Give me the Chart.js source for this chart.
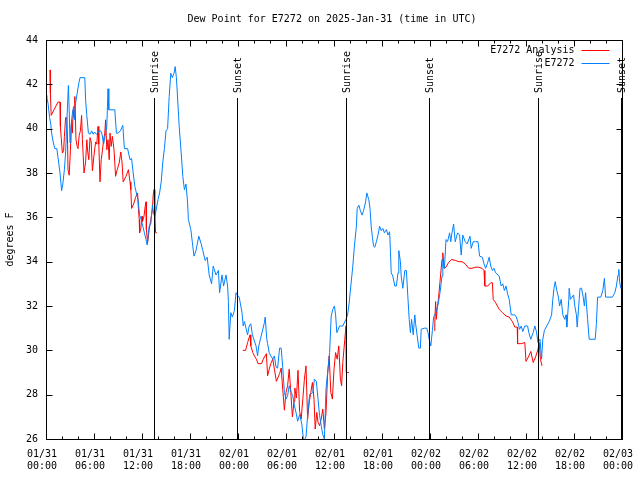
<!DOCTYPE html>
<html>
<head>
<meta charset="utf-8">
<script src="https://cdn.jsdelivr.net/npm/chart.js@4"></script>
<style>
  html, body { margin: 0; padding: 0; background: #fff; }
  canvas { display: block; }
</style>
</head>
<body>
<canvas id="dew" width="640" height="480"></canvas>
<script>
/* ================= TEXT ================= */
const chartTitle = "Dew Point for E7272 on 2025-Jan-31 (time in UTC)";
const yTitle = "degrees F";
const seriesNames = ["E7272 Analysis", "E7272"];
const dayLabels = ["01/31", "02/01", "02/02", "02/03"];

/* ================= AXES (hours since 01/31 00:00 UTC) ================= */
const xMin = 0, xMax = 72, xStep = 6, xMinorStep = 2;
const yMin = 26, yMax = 44, yStep = 2;

/* ================= SUN EVENTS ================= */
const sunHours = [13.54, 23.93, 37.53, 47.92, 61.53, 71.9];
const sunNames = ["Sunrise", "Sunset", "Sunrise", "Sunset", "Sunrise", "Sunset"];

/* ================= E7272 OBSERVED ================= */
const obsHours = [
  0.0, 0.1, 0.25, 0.45, 0.6, 0.7, 0.9, 1.1, 1.35, 1.5, 1.75, 1.95, 2.1, 2.3, 2.45, 2.65, 2.8, 2.9, 3.0, 3.1,
  3.3, 3.45, 3.55, 3.7, 3.9, 4.1, 4.25, 4.85, 4.95, 5.1, 5.3, 5.5, 5.7, 5.9, 6.05, 6.3, 6.45, 6.6, 6.85, 7.0,
  7.2, 7.4, 7.6, 7.75, 7.85, 8.6, 8.8, 9.0, 9.3, 9.6, 9.8, 10.2, 10.5, 10.7, 10.9, 11.1, 11.3, 11.5, 11.7, 11.9,
  12.1, 12.3, 12.5, 12.65, 12.8, 12.9, 13.1, 13.3, 13.45, 13.6, 13.75, 14.0, 14.2, 14.4, 14.6, 14.8, 15.0, 15.2, 15.4, 15.6,
  15.8, 16.0, 16.15, 16.3, 16.4, 16.65, 16.9, 17.1, 17.3, 17.5, 17.7, 17.8, 18.1, 18.3, 18.5, 18.75, 19.1, 19.4, 19.6, 19.9,
  20.15, 20.4, 20.7, 20.9, 21.25, 21.55, 21.7, 22.0, 22.2, 22.5, 22.7, 22.8, 22.9, 23.1, 23.3, 23.55, 23.75, 23.9, 24.15, 24.5,
  24.65, 24.8, 25.2, 25.4, 25.6, 25.8, 26.25, 26.45, 26.6, 26.9, 27.3, 27.4, 27.6, 27.7, 27.9, 28.1, 28.35, 28.55, 28.75, 28.95,
  29.2, 29.4, 29.6, 29.8, 30.0, 30.2, 30.4, 30.65, 30.85, 31.05, 31.25, 31.45, 31.7, 31.9, 32.0, 32.2, 32.5, 32.7, 32.95, 33.35,
  33.55, 33.8, 34.0, 34.2, 34.4, 34.6, 34.8, 35.0, 35.2, 35.45, 35.65, 35.85, 36.05, 36.2, 36.35, 36.7, 37.1, 37.5, 37.7, 37.9,
  38.1, 38.35, 38.55, 38.8, 38.9, 39.1, 39.3, 39.5, 39.7, 39.95, 40.1, 40.35, 40.5, 40.65, 40.8, 40.95, 41.1, 41.3, 41.5, 41.7,
  41.9, 42.1, 42.3, 42.55, 42.75, 42.95, 43.05, 43.15, 43.35, 43.6, 43.8, 44.0, 44.1, 44.3, 44.4, 44.6, 44.85, 45.05, 45.25, 45.4,
  45.55, 45.7, 45.9, 46.1, 46.2, 46.4, 46.6, 46.8, 46.9, 47.3, 47.6, 47.75, 47.9, 48.1, 48.3, 48.45, 48.6, 48.85, 49.05, 49.25,
  49.5, 49.6, 49.8, 50.0, 50.2, 50.45, 50.6, 50.7, 50.95, 51.15, 51.45, 51.7, 51.9, 52.1, 52.4, 52.65, 53.0, 53.15, 53.4, 53.7,
  54.0, 54.2, 54.55, 54.75, 54.95, 55.2, 55.4, 55.6, 55.8, 56.0, 56.2, 56.65, 56.9, 57.1, 57.3, 57.5, 57.7, 57.9, 58.15, 58.6,
  58.8, 59.0, 59.2, 59.4, 59.6, 59.85, 60.2, 60.35, 60.6, 60.9, 61.1, 61.3, 61.5, 61.75, 61.95, 62.1, 62.3, 62.6, 62.9, 63.2,
  63.35, 63.5, 63.65, 63.85, 64.05, 64.2, 64.4, 64.6, 64.85, 65.0, 65.1, 65.35, 65.4, 65.55, 65.75, 65.95, 66.1, 66.3, 66.4, 66.65,
  66.75, 66.95, 67.15, 67.3, 67.45, 67.7, 67.9, 68.65, 68.8, 68.95, 69.35, 69.6, 69.8, 69.95, 70.8, 71.1, 71.3, 71.5, 71.6, 71.7,
  71.85, 72.0
];
const obsDew = [
  41.5, 41.4, 41.15, 40.5, 40.2, 39.8, 39.4, 39.1, 39.1, 38.7, 38.0, 37.2, 37.5, 38.15, 38.9, 40.7, 41.95, 40.85, 39.35, 40.0,
  40.7, 41.0, 40.4, 41.15, 41.6, 42.05, 42.3, 42.3, 41.3, 40.6, 39.8, 39.75, 39.9, 39.75, 39.85, 39.75, 39.8, 39.9, 39.9, 39.75,
  39.3, 39.7, 40.1, 41.8, 40.85, 40.85, 39.8, 39.8, 39.9, 40.15, 39.1, 39.1, 38.6, 38.65, 38.0, 37.4, 37.1, 36.8, 36.1, 35.9,
  35.6, 35.3, 35.0, 34.75, 35.3, 35.6, 35.7, 36.55, 36.2, 36.0, 36.3, 36.8, 37.1, 37.6, 38.5, 39.1, 39.9, 40.0, 41.45, 42.5,
  42.3, 42.5, 42.8, 42.3, 41.7, 40.1, 38.9, 37.85, 37.25, 37.5, 36.65, 35.9, 35.45, 34.85, 34.25, 34.5, 35.15, 34.8, 34.5, 34.05,
  34.2, 33.4, 33.0, 33.8, 33.4, 33.6, 32.6, 33.4, 32.9, 33.4, 32.9, 32.2, 30.5, 31.7, 31.5, 31.8, 32.6, 32.5, 32.4, 31.7,
  31.1, 31.3, 30.7, 31.1, 31.2, 30.7, 30.2, 29.75, 30.2, 30.65, 31.25, 31.5, 30.5, 30.3, 29.9, 29.75, 29.6, 29.75, 29.25, 29.2,
  30.1, 30.1, 29.2, 28.1, 27.8, 27.95, 28.4, 28.1, 27.95, 27.5, 27.2, 26.8, 27.1, 26.8, 26.6, 25.9, 26.1, 27.05, 28.0, 28.1,
  28.7, 28.6, 27.8, 27.05, 26.6, 26.2, 26.0, 28.25, 29.0, 29.9, 31.55, 31.85, 32.0, 31.6, 30.8, 31.1, 31.1, 31.4, 31.6, 32.15,
  32.9, 33.8, 34.7, 35.6, 36.4, 36.55, 36.3, 36.1, 36.3, 36.7, 37.1, 36.8, 36.4, 35.6, 35.1, 34.7, 34.65, 34.9, 35.2, 35.6,
  35.4, 35.5, 35.3, 35.45, 35.2, 35.35, 34.55, 33.5, 33.35, 32.9, 32.9, 33.5, 34.5, 34.0, 33.35, 32.8, 33.6, 33.6, 32.3, 31.4,
  30.8, 31.4, 30.7, 31.6, 31.2, 30.65, 30.1, 30.1, 30.95, 31.0, 31.0, 30.8, 30.5, 30.2, 30.9, 31.5, 31.6, 31.85, 32.15, 32.6,
  33.35, 34.1, 33.7, 35.0, 34.9, 35.3, 34.9, 35.2, 35.7, 34.9, 35.3, 35.2, 34.3, 35.2, 34.9, 34.8, 35.15, 34.6, 34.9, 34.9,
  34.9, 34.25, 34.2, 33.9, 33.7, 33.95, 34.2, 33.8, 33.6, 33.7, 33.5, 33.35, 32.9, 33.0, 32.7, 32.9, 32.55, 32.3, 31.6, 31.6,
  31.5, 31.25, 30.95, 31.1, 30.85, 31.1, 31.1, 30.8, 30.5, 30.8, 31.1, 30.85, 30.35, 30.5, 29.6, 30.5, 30.9, 31.1, 31.3, 31.6,
  32.3, 32.8, 33.1, 32.7, 32.4, 32.0, 32.3, 31.6, 31.4, 31.6, 31.05, 32.3, 32.8, 32.3, 32.4, 32.5, 32.0, 31.6, 31.05, 32.3,
  32.8, 32.8, 32.4, 32.0, 32.6, 31.4, 30.5, 30.5, 31.2, 32.4, 32.4, 32.7, 33.25, 32.4, 32.4, 32.6, 32.9, 33.4, 33.65, 33.1,
  32.8, 32.8
];

/* ================= E7272 ANALYSIS (null = gap during daytime) ================= */
const anaHours = [
  0.5, 0.55, 0.65, 1.0, 1.5, 1.75, 1.8, 1.9, 2.05, 2.2, 2.3, 2.45, 2.6, 2.7, 2.75, 2.9, 3.05, 3.2, 3.3, 3.4,
  3.5, 3.6, 3.75, 3.9, 4.0, 4.15, 4.3, 4.45, 4.55, 4.65, 4.75, 4.95, 5.1, 5.2, 5.35, 5.5, 5.65, 5.8, 6.0, 6.2,
  6.35, 6.5, 6.6, 6.75, 6.9, 7.05, 7.2, 7.35, 7.45, 7.6, 7.75, 7.9, 8.0, 8.15, 8.3, 8.5, 8.7, 8.9, 9.15, 9.35,
  9.5, 9.65, 10.0, 10.3, 10.5, 10.6, 10.7, 10.95, 11.2, 11.45, 11.55, 11.65, 11.7, 11.85, 12.0, 12.05, 12.25, 12.4, 12.5, 12.55,
  12.7, 12.9, 13.1, 13.3, 13.4, 13.5, 13.6, 13.7, 13.85,
  19.0,
  24.6, 24.95, 25.2, 25.5, 25.6, 25.85, 26.05, 26.3, 26.5, 26.95, 27.15, 27.55, 27.7, 27.9, 28.1, 28.35, 28.55, 28.8, 29.2, 29.4,
  29.6, 29.8, 30.0, 30.2, 30.4, 30.6, 30.8, 31.0, 31.1, 31.3, 31.5, 31.7, 31.9, 32.1, 32.3, 32.5, 32.7, 32.9, 33.1, 33.3,
  33.5, 33.65, 33.85, 34.0, 34.2, 34.4, 34.6, 34.8, 35.0, 35.2, 35.4, 35.6, 35.8, 36.0, 36.2, 36.4, 36.6, 36.8, 36.95, 37.1,
  37.35, 37.5, 37.55, 37.85,
  43.0,
  48.5, 48.6, 48.7, 48.8, 48.9, 49.05, 49.25, 49.5, 49.6, 49.75, 50.0, 50.3, 50.7, 51.2, 51.6, 52.0, 52.4, 52.85, 53.25, 53.65,
  54.1, 54.5, 54.75, 54.85, 55.2, 55.6, 55.8, 55.9, 56.2, 56.65, 57.05, 57.5, 57.9, 58.3, 58.6, 58.9, 58.95, 59.4, 59.85, 60.0,
  60.3, 60.6, 60.9, 61.2, 61.5, 61.65, 61.8, 62.0
];
const anaDew = [
  42.65, 41.6, 40.6, 40.85, 41.2, 41.2, 40.1, 39.6, 38.9, 39.0, 39.65, 40.5, 40.5, 39.3, 38.15, 37.9, 39.0, 40.4, 39.8, 40.85,
  40.5, 41.45, 39.5, 39.2, 39.1, 39.7, 39.9, 40.6, 39.5, 38.8, 38.0, 38.5, 39.5, 39.0, 38.6, 39.6, 39.4, 38.1, 38.8, 39.4,
  39.3, 40.1, 39.3, 37.6, 38.6, 39.0, 39.5, 39.8, 40.4, 39.05, 39.5, 38.6, 39.8, 39.2, 39.65, 39.05, 37.85, 38.15, 38.45, 38.95,
  38.5, 37.6, 37.85, 38.15, 37.6, 37.25, 36.4, 36.6, 36.9, 37.1, 36.4, 35.9, 35.3, 35.5, 36.05, 35.8, 36.05, 36.5, 36.7, 35.45,
  34.85, 35.45, 35.9, 36.35, 37.0, 37.25, 36.2, 35.3, 35.3,
  null,
  30.0, 30.0, 30.35, 30.7, 30.2, 29.9, 29.75, 29.6, 29.4, 29.4, 29.6, 29.85, 28.85, 29.15, 29.4, 29.6, 29.15, 28.6, 28.95, 29.2,
  28.2, 27.3, 28.1, 28.4, 29.15, 28.1, 27.0, 27.7, 28.3, 27.85, 29.1, 27.25, 26.9, 27.8, 28.7, 29.3, 26.9, 27.65, 28.1, 28.55,
  27.8, 26.45, 27.2, 26.75, 26.6, 26.9, 27.35, 26.45, 27.2, 28.9, 29.75, 28.1, 27.8, 29.15, 29.9, 29.6, 30.2, 28.7, 28.4, 29.45,
  30.5, 31.1, 29.0, 29.0,
  null,
  30.9, 31.25, 32.2, 31.4, 31.9, 32.3, 33.1, 34.1, 34.4, 33.7, 33.75, 33.95, 34.1, 34.05, 34.0, 34.0, 33.9, 33.7, 33.7, 33.75,
  33.75, 33.7, 33.6, 32.9, 32.9, 33.05, 33.05, 32.3, 32.15, 31.85, 31.7, 31.55, 31.5, 31.3, 31.05, 31.05, 30.3, 30.3, 30.35, 29.5,
  29.7, 29.95, 29.45, 29.7, 30.05, 30.35, 29.6, 29.3
];

/* ================= STYLE ================= */
const FONT = "'DejaVu Sans Mono', 'Liberation Mono', monospace";
const seriesColors = ["#ff0000", "#0080ff"];

function hourLabel(h) {
    const day = dayLabels[Math.floor(h / 24)];
    const hh = String(h % 24).padStart(2, "0");
    return [day, hh + ":00"];
}

function toPoints(hours, values) {
    return hours.map((h, i) => ({ x: h, y: values[i] }));
}

/* ================= GNUPLOT-LIKE DECORATION ================= */
const gnuplotFrame = {
    id: "gnuplotFrame",
    afterDatasetsDraw(chart) {
        const { ctx, chartArea: a, scales: { x, y } } = chart;
        const L = Math.round(a.left) + 0.5, R = Math.round(a.right) + 0.5;
        const T = Math.round(a.top) + 0.5, B = Math.round(a.bottom) + 0.5;
        ctx.save();
        ctx.strokeStyle = "#000";
        ctx.fillStyle = "#000";
        ctx.lineWidth = 1;

        /* inward ticks */
        ctx.beginPath();
        for (let h = xMin; h <= xMax; h += xMinorStep) {
            const px = Math.round(x.getPixelForValue(h)) + 0.5;
            const len = h % xStep === 0 ? 6 : 3;
            ctx.moveTo(px, B); ctx.lineTo(px, B - len);
            ctx.moveTo(px, T); ctx.lineTo(px, T + len);
        }
        for (let v = yMin; v <= yMax; v += yStep) {
            const py = Math.round(y.getPixelForValue(v)) + 0.5;
            ctx.moveTo(L, py); ctx.lineTo(L + 6, py);
            ctx.moveTo(R, py); ctx.lineTo(R - 6, py);
        }
        ctx.stroke();

        /* sunrise / sunset markers */
        ctx.font = "10px " + FONT;
        sunHours.forEach((h, i) => {
            const px = Math.round(x.getPixelForValue(h)) + 0.5;
            ctx.beginPath();
            ctx.moveTo(px, 98);
            ctx.lineTo(px, B);
            ctx.stroke();
            ctx.save();
            ctx.translate(px + 1, 93);
            ctx.rotate(-Math.PI / 2);
            ctx.textAlign = "left";
            ctx.textBaseline = "middle";
            ctx.fillText(sunNames[i], 0, 0);
            ctx.restore();
        });

        /* frame */
        ctx.strokeRect(L, T, R - L, B - T);

        /* legend */
        ctx.textAlign = "right";
        ctx.textBaseline = "middle";
        seriesNames.forEach((name, i) => {
            const ly = T + 10 + i * 13;
            ctx.fillStyle = "#000";
            ctx.fillText(name, R - 48, ly);
            ctx.strokeStyle = seriesColors[i];
            ctx.beginPath();
            ctx.moveTo(R - 41, Math.round(ly) - 0.5);
            ctx.lineTo(R - 13, Math.round(ly) - 0.5);
            ctx.stroke();
        });

        /* title */
        ctx.fillStyle = "#000";
        ctx.textAlign = "center";
        ctx.fillText(chartTitle, 332, 19);
        ctx.restore();
    }
};

/* ================= CHART ================= */
new Chart(document.getElementById("dew"), {
    type: "line",
    data: {
        datasets: [
            {
                label: seriesNames[0],
                data: toPoints(anaHours, anaDew),
                borderColor: seriesColors[0],
                borderWidth: 1,
                pointRadius: 0,
                tension: 0,
                spanGaps: false,
                order: 1
            },
            {
                label: seriesNames[1],
                data: toPoints(obsHours, obsDew),
                borderColor: seriesColors[1],
                borderWidth: 1,
                pointRadius: 0,
                tension: 0,
                order: 0
            }
        ]
    },
    options: {
        responsive: false,
        animation: false,
        devicePixelRatio: 1,
        layout: { padding: { top: 40, right: 18, left: 0, bottom: 0 } },
        plugins: {
            legend: { display: false },
            title: { display: false },
            tooltip: { enabled: false }
        },
        scales: {
            x: {
                type: "linear",
                min: xMin,
                max: xMax,
                grid: { display: false, drawTicks: false },
                border: { display: false },
                ticks: {
                    stepSize: xStep,
                    autoSkip: false,
                    maxRotation: 0,
                    padding: 9,
                    labelOffset: -4,
                    color: "#000",
                    font: { family: FONT, size: 10, lineHeight: 1.2 },
                    callback: v => hourLabel(v)
                },
                afterFit: s => {
                    s.height = 41;
                    s.paddingLeft = 0;
                    s.paddingRight = 0;
                }
            },
            y: {
                min: yMin,
                max: yMax,
                grid: { display: false, drawTicks: false },
                border: { display: false },
                title: {
                    display: true,
                    text: yTitle,
                    color: "#000",
                    font: { family: FONT, size: 10, lineHeight: 1.2 },
                    padding: { top: 4, bottom: 0 }
                },
                ticks: {
                    stepSize: yStep,
                    padding: 8,
                    color: "#000",
                    font: { family: FONT, size: 10 }
                },
                afterFit: s => { s.width = 46; }
            }
        }
    },
    plugins: [gnuplotFrame]
});
</script>
</body>
</html>
